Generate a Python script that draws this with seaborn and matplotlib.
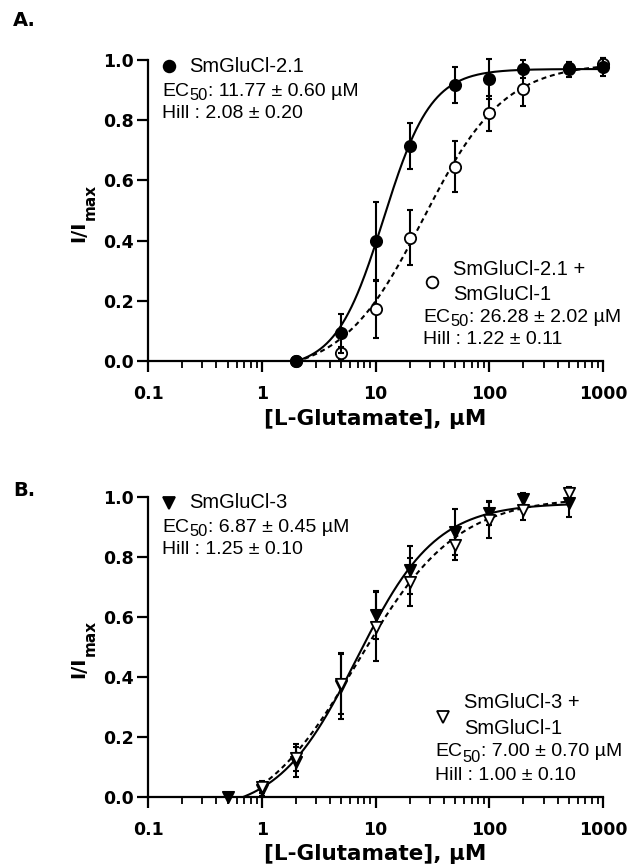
import numpy as np
import pandas as pd
import seaborn as sns
import matplotlib.pyplot as plt
from matplotlib.ticker import FixedLocator, FixedFormatter, LogLocator, NullFormatter

# panel A: SmGluCl-2.1 alone and with SmGluCl-1
conc_a = [2, 5, 10, 20, 50, 100, 200, 500, 1000]
a_alone = [0.0, 0.092, 0.399, 0.714, 0.917, 0.936, 0.969, 0.970, 0.978]
a_alone_err = [0.0, 0.065, 0.13, 0.077, 0.06, 0.066, 0.03, 0.025, 0.03]
a_co = [0.0, 0.025, 0.172, 0.41, 0.645, 0.823, 0.903, 0.975, 0.987]
a_co_err = [0.0, 0.02, 0.095, 0.09, 0.085, 0.058, 0.055, 0.02, 0.02]

# panel B: SmGluCl-3 alone and with SmGluCl-1
conc_b = [0.5, 1, 2, 5, 10, 20, 50, 100, 200, 500]
b_alone = [0.0, 0.023, 0.118, 0.37, 0.607, 0.757, 0.884, 0.946, 0.992, 0.979]
b_alone_err = [0.0, 0.02, 0.05, 0.11, 0.08, 0.08, 0.077, 0.04, 0.02, 0.045]
conc_b_co = [1, 2, 5, 10, 20, 50, 100, 200, 500]
b_co = [0.034, 0.131, 0.376, 0.568, 0.718, 0.84, 0.923, 0.957, 1.012]
b_co_err = [0.02, 0.045, 0.1, 0.115, 0.08, 0.05, 0.06, 0.035, 0.02]

# fitted Hill curves: ec50, hill, bottom, top
fit_a_alone = [11.77, 2.08, -0.025, 0.97]
fit_a_co = [26.28, 1.22, -0.045, 0.99]
fit_b_alone = [6.87, 1.25, -0.055, 0.98]
fit_b_co = [7.00, 1.00, -0.097, 1.0]

x_ticks = [0.1, 1, 10, 100, 1000]
x_tick_labels = ['0.1', '1', '10', '100', '1000']
y_ticks = [0.0, 0.2, 0.4, 0.6, 0.8, 1.0]
y_tick_labels = ['0.0', '0.2', '0.4', '0.6', '0.8', '1.0']

sns.set_theme(style="ticks")
plt.rcParams['font.family'] = ['Liberation Sans', 'DejaVu Sans']
plt.rcParams['text.color'] = 'black'

W, H = 641, 868
fig = plt.figure(figsize=(W / 100, H / 100), dpi=100)
renderer = fig.canvas.get_renderer()
BOLD = 'DejaVu Sans'


def hill(x, p):
    ec50, n, bottom, top = p
    return bottom + (top - bottom) / (1 + (ec50 / x) ** n)


def add_series(ax, x, y, err, fit, marker, filled, dashed, z):
    xs = np.logspace(np.log10(min(x)), np.log10(max(x)), 300)
    curve = pd.DataFrame({'x': xs, 'y': hill(xs, fit)})
    sns.lineplot(data=curve, x='x', y='y', ax=ax, color='black', lw=1.5, zorder=z)
    if dashed:
        ax.lines[-1].set_dashes((2.4, 1.8))
    eb = ax.errorbar(x, y, yerr=err, fmt='none', ecolor='black', elinewidth=1.5,
                     capsize=2.4, capthick=1.5, zorder=z + 1)
    for art in eb.get_children():
        art.set_clip_on(False)
    pts = pd.DataFrame({'x': x, 'y': y})
    sns.scatterplot(data=pts, x='x', y='y', ax=ax, marker=marker, s=66,
                    color='black' if filled else 'white', edgecolor='black',
                    linewidth=1.3, zorder=z + 2, clip_on=False)


def style_axes(ax):
    ax.set_xscale('log')
    ax.set_xlim(0.1, 1000)
    ax.set_ylim(0, 1.0)
    ax.xaxis.set_major_locator(FixedLocator(x_ticks))
    ax.xaxis.set_major_formatter(FixedFormatter(x_tick_labels))
    ax.xaxis.set_minor_locator(LogLocator(base=10, subs=np.arange(2, 10)))
    ax.xaxis.set_minor_formatter(NullFormatter())
    ax.yaxis.set_major_locator(FixedLocator(y_ticks))
    ax.yaxis.set_major_formatter(FixedFormatter(y_tick_labels))
    sns.despine(ax=ax)
    for sp in ['left', 'bottom']:
        ax.spines[sp].set_linewidth(1.6)
        ax.spines[sp].set_color('black')
    ax.tick_params(axis='both', which='major', length=8, width=1.6, color='black',
                   labelsize=12.5, labelcolor='black')
    ax.tick_params(axis='x', which='major', pad=9)
    ax.tick_params(axis='y', which='major', pad=2)
    ax.tick_params(axis='x', which='minor', length=5, width=1.3, color='black')
    for lab in ax.get_xticklabels() + ax.get_yticklabels():
        lab.set_fontweight('bold')
        lab.set_fontfamily(BOLD)
    ax.set_xlabel('[L-Glutamate], µM', fontsize=15.5, fontweight='bold',
                  fontfamily=BOLD, color='black')
    ax.xaxis.set_label_coords(0.5, -0.158)
    ax.set_ylabel('')
    ax.set_facecolor('white')


def px_axes(left, top, right, bottom):
    return fig.add_axes([left / W, 1 - bottom / H, (right - left) / W, (bottom - top) / H])


def ftext(x, y, s, size, **kw):
    return fig.text(x / W, 1 - y / H, s, fontsize=size, ha='left', va='center',
                    color='black', **kw)


def ec_text(x, y, rest, size):
    t = ftext(x, y, 'EC', size)
    x1 = t.get_window_extent(renderer).x1
    t = ftext(x1, y + 5, '50', size * 0.85)
    x2 = t.get_window_extent(renderer).x1
    ftext(x2 + 1, y, ': ' + rest, size)


def ylabel_parts(yc):
    # I/I_max with a large subscript, as in the original
    fig.text(79 / W, 1 - (yc + 20) / H, 'I/I', fontsize=14, fontweight='bold',
             fontfamily=BOLD, rotation=90, ha='center', va='center')
    fig.text(90 / W, 1 - (yc - 9) / H, 'max', fontsize=11, fontweight='bold',
             fontfamily=BOLD, rotation=90, ha='center', va='center')


def fmark(ax, x, y, marker, filled):
    ax.plot([x / W], [1 - y / H], transform=fig.transFigure, marker=marker, ms=8.4,
            mfc='black' if filled else 'white', mec='black', mew=1.3, clip_on=False,
            ls='none')


# panel A
ax_a = px_axes(148, 60, 603, 361)
add_series(ax_a, conc_a, a_co, a_co_err, fit_a_co, 'o', False, True, 2)
add_series(ax_a, conc_a, a_alone, a_alone_err, fit_a_alone, 'o', True, False, 5)
style_axes(ax_a)
ylabel_parts(211)

# panel B
ax_b = px_axes(148, 497, 603, 797)
add_series(ax_b, conc_b, b_alone, b_alone_err, fit_b_alone, 'v', True, False, 2)
add_series(ax_b, conc_b_co, b_co, b_co_err, fit_b_co, 'v', False, True, 5)
style_axes(ax_b)
ylabel_parts(647)

fig.text(13 / W, 1 - 21 / H, 'A.', fontsize=14, fontweight='bold', fontfamily=BOLD,
         ha='left', va='center', color='black')
fig.text(13 / W, 1 - 491 / H, 'B.', fontsize=14, fontweight='bold', fontfamily=BOLD,
         ha='left', va='center', color='black')

NAME = 14.5
INFO = 14

# annotations panel A
fmark(ax_a, 169, 66, 'o', True)
ftext(189, 66, 'SmGluCl-2.1', NAME)
ec_text(162, 91, '11.77 ± 0.60 µM', INFO)
ftext(162, 113, 'Hill : 2.08 ± 0.20', INFO)
fmark(ax_a, 432, 282, 'o', False)
ftext(453, 269, 'SmGluCl-2.1 +', NAME)
ftext(453, 295, 'SmGluCl-1', NAME)
ec_text(423, 317, '26.28 ± 2.02 µM', INFO)
ftext(423, 339, 'Hill : 1.22 ± 0.11', INFO)

# annotations panel B
fmark(ax_b, 169, 503, 'v', True)
ftext(189, 503, 'SmGluCl-3', NAME)
ec_text(162, 527, '6.87 ± 0.45 µM', INFO)
ftext(162, 549, 'Hill : 1.25 ± 0.10', INFO)
fmark(ax_b, 443, 717, 'v', False)
ftext(464, 703, 'SmGluCl-3 +', NAME)
ftext(464, 728, 'SmGluCl-1', NAME)
ec_text(435, 752, '7.00 ± 0.70 µM', INFO)
ftext(435, 776, 'Hill : 1.00 ± 0.10', INFO)

fig.savefig('out.png', dpi=100, facecolor='white')
